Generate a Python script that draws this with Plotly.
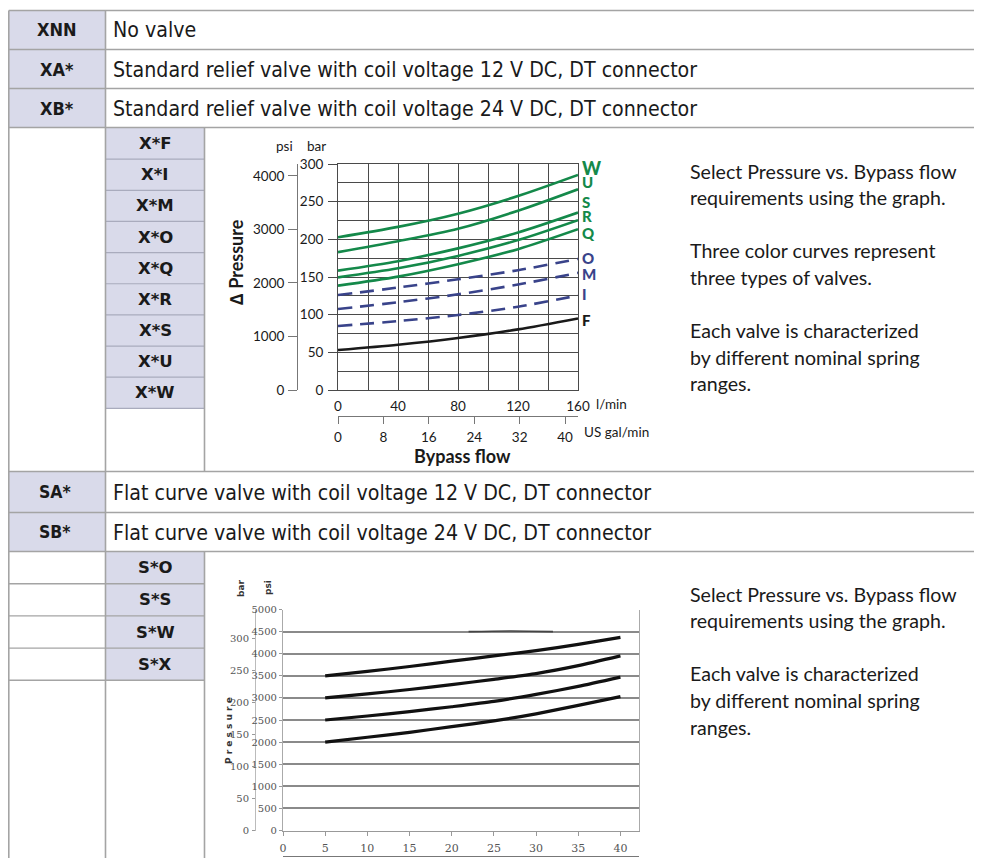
import plotly.graph_objects as go

# the page body adds an 8 px margin, so the figure is drawn 8 px in from the corner
OFF = 8
W, H = 982 - OFF, 858 - OFF


def px(x):
    return (x - OFF) / W


def py(y):
    return 1 - (y - OFF) / H


# ── data ──────────────────────────────────────────────────────────────────────
TOP_CODES = ["XNN", "XA*", "XB*"]
TOP_DESCR = [
    "No valve",
    "Standard relief valve with coil voltage 12 V DC, DT connector",
    "Standard relief valve with coil voltage 24 V DC, DT connector",
]
X_SUBCODES = ["X*F", "X*I", "X*M", "X*O", "X*Q", "X*R", "X*S", "X*U", "X*W"]
S_CODES = ["SA*", "SB*"]
S_DESCR = [
    "Flat curve valve with coil voltage 12 V DC, DT connector",
    "Flat curve valve with coil voltage 24 V DC, DT connector",
]
S_SUBCODES = ["S*O", "S*S", "S*W", "S*X"]

NOTE_X = [
    "Select Pressure vs. Bypass flow",
    "requirements using the graph.",
    "",
    "Three color curves represent",
    "three types of valves.",
    "",
    "Each valve is characterized",
    "by different nominal spring",
    "ranges.",
]
NOTE_S = [
    "Select Pressure vs. Bypass flow",
    "requirements using the graph.",
    "",
    "Each valve is characterized",
    "by different nominal spring",
    "ranges.",
]

# standard relief valve curves, pressure in bar vs flow in l/min
FLOW_LMIN = [0, 40, 80, 120, 160]
W_BAR = [202.7, 216.5, 234, 257.5, 285.5]
U_BAR = [183, 197.5, 214, 238, 266.5]
S_BAR = [158.5, 171, 188, 209, 235.5]
R_BAR = [149.5, 161.5, 178, 199, 225.5]
Q_BAR = [138.5, 150.5, 167, 187, 213.5]
O_BAR = [126, 136, 147, 159, 174]
M_BAR = [107.5, 116.5, 127, 140, 155.5]
I_BAR = [85, 91.5, 99.5, 110.5, 125.5]
F_BAR = [53, 60, 69, 80.5, 95]

# flat curve valves, pressure in psi vs flow in US gal/min
FLOW_GPM = [5, 10, 15, 20, 25, 30, 35, 40]
FLAT_1 = [3500, 3600, 3710, 3830, 3950, 4070, 4210, 4370]
FLAT_2 = [3000, 3090, 3190, 3300, 3420, 3550, 3730, 3950]
FLAT_3 = [2500, 2590, 2690, 2800, 2920, 3080, 3260, 3470]
FLAT_4 = [2000, 2110, 2220, 2350, 2480, 2640, 2830, 3030]
FAINT_X = [22, 27, 32]
FAINT_PSI = [4500, 4515, 4500]

PSI_PER_BAR = 14.5038
LMIN_PER_GPM = 3.78541

GREEN = "#14894a"
NAVY = "#39438a"
LINE = "#a4a4a4"
HEAD = "#d9daea"
SUBLINE = "#a9abbd"

NARROW = "DejaVu Sans Condensed, sans-serif"
BOLD = "DejaVu Sans, sans-serif"
BODY = "Lato, Open Sans, sans-serif"

fig = go.Figure()

# ── chart 1: standard relief valves ──────────────────────────────────────────
std_curves = [
    ("W", W_BAR, GREEN, "solid"), ("U", U_BAR, GREEN, "solid"),
    ("S", S_BAR, GREEN, "solid"), ("R", R_BAR, GREEN, "solid"),
    ("Q", Q_BAR, GREEN, "solid"), ("O", O_BAR, NAVY, "14px,8px"),
    ("M", M_BAR, NAVY, "14px,8px"), ("I", I_BAR, NAVY, "14px,8px"),
    ("F", F_BAR, "#1a1a1a", "solid"),
]
for name, vals, col, dash in std_curves:
    fig.add_trace(go.Scatter(
        x=FLOW_LMIN, y=vals, mode="lines", name=name,
        line=dict(color=col, width=2.6, dash=dash, shape="spline", smoothing=0.8),
        xaxis="x", yaxis="y", showlegend=False, hoverinfo="skip",
    ))
# empty traces so the secondary scales get drawn
fig.add_trace(go.Scatter(x=[], y=[], xaxis="x2", yaxis="y", showlegend=False))
fig.add_trace(go.Scatter(x=[], y=[], xaxis="x", yaxis="y2", showlegend=False))

# ── chart 2: flat curve valves ───────────────────────────────────────────────
for vals in [FLAT_1, FLAT_2, FLAT_3, FLAT_4]:
    fig.add_trace(go.Scatter(
        x=FLOW_GPM, y=vals, mode="lines",
        line=dict(color="#111111", width=3.2, shape="spline", smoothing=0.6),
        xaxis="x3", yaxis="y3", showlegend=False, hoverinfo="skip",
    ))
fig.add_trace(go.Scatter(
    x=FAINT_X, y=FAINT_PSI, mode="lines",
    line=dict(color="#444444", width=1.6, shape="spline"),
    xaxis="x3", yaxis="y3", showlegend=False, hoverinfo="skip",
))
fig.add_trace(go.Scatter(x=[], y=[], xaxis="x4", yaxis="y3", showlegend=False))
fig.add_trace(go.Scatter(x=[], y=[], xaxis="x3", yaxis="y4", showlegend=False))

# ── table frame ───────────────────────────────────────────────────────────────
shapes = []


def rect(x0, y0, x1, y1, fill):
    shapes.append(dict(type="rect", xref="paper", yref="paper", layer="below",
                       x0=px(x0), x1=px(x1), y0=py(y1), y1=py(y0),
                       fillcolor=fill, line=dict(width=0)))


def hline(y, x0, x1, color=LINE, width=1.6):
    shapes.append(dict(type="line", xref="paper", yref="paper", layer="below",
                       x0=px(x0), x1=px(x1), y0=py(y), y1=py(y),
                       line=dict(color=color, width=width)))


def vline(x, y0, y1, color=LINE, width=1.6):
    shapes.append(dict(type="line", xref="paper", yref="paper", layer="below",
                       x0=px(x), x1=px(x), y0=py(y0), y1=py(y1),
                       line=dict(color=color, width=width)))


L, C1, C2 = 8.8, 105.5, 204.5
top_rows = [10.5, 49.5, 88.5, 127.5]
s_rows = [471.5, 512.5, 551.5]
x_sub = [128 + 31.15 * i for i in range(len(X_SUBCODES) + 1)]
s_sub = [551.5 + 32.2 * i for i in range(len(S_SUBCODES) + 1)]

for rows in (top_rows, s_rows):
    for y0, y1 in zip(rows[:-1], rows[1:]):
        rect(L, y0, C1, y1, HEAD)
rect(C1, x_sub[0], C2, x_sub[-1], HEAD)
rect(C1, s_sub[0], C2, s_sub[-1], HEAD)
for y in x_sub[1:-1]:
    hline(y, C1, C2, SUBLINE, 1.2)
hline(x_sub[-1], C1, C2, SUBLINE, 1.2)
for y in s_sub[1:]:
    hline(y, L, C2, LINE, 1.4)
for y in top_rows + s_rows:
    hline(y, L, 982)
vline(L, 10.5, 858)
vline(C1, 10.5, 858)
vline(C2, 127.5, 471.5)
vline(C2, 551.5, 858)

# ── annotations ──────────────────────────────────────────────────────────────
ann = []


def text(x, y, s, size, family, color="#1a1a1a", xanchor="center", angle=0, bold=False):
    ann.append(dict(x=px(x), y=py(y), xref="paper", yref="paper", text=s,
                    showarrow=False, xanchor=xanchor, yanchor="middle", textangle=angle,
                    font=dict(size=size, family=family, color=color,
                              weight=700 if bold else 400)))


for i, (code, descr) in enumerate(zip(TOP_CODES, TOP_DESCR)):
    yc = (top_rows[i] + top_rows[i + 1]) / 2
    text(57, yc, code, 18, NARROW, bold=True)
    text(111, yc, descr, 21.2, NARROW, xanchor="left")
for i, (code, descr) in enumerate(zip(S_CODES, S_DESCR)):
    yc = (s_rows[i] + s_rows[i + 1]) / 2
    text(55, yc, code, 17.5, NARROW, bold=True)
    text(111, yc, descr, 21.2, NARROW, xanchor="left")
for i, code in enumerate(X_SUBCODES):
    text(155, (x_sub[i] + x_sub[i + 1]) / 2, code, 16.5, BOLD, bold=True)
for i, code in enumerate(S_SUBCODES):
    text(155, (s_sub[i] + s_sub[i + 1]) / 2, code, 16.5, BOLD, bold=True)

for i, line in enumerate(NOTE_X):
    if line:
        text(688, 171 + 26.6 * i, line, 19.6, BODY, xanchor="left")
for i, line in enumerate(NOTE_S):
    if line:
        text(688, 594 + 26.6 * i, line, 19.6, BODY, xanchor="left")

# chart 1 labels
text(284, 146, "psi", 13.5, BODY)
text(316, 146, "bar", 13.5, BODY)
text(236, 262, "\u2206 Pressure", 18, BODY, angle=-90, bold=True)
text(594, 404, "l/min", 13.5, BODY, xanchor="left")
text(582, 432, "US gal/min", 13.5, BODY, xanchor="left")
text(462, 456, "Bypass flow", 18, BODY, bold=True)
label_y = {"W": 295, "U": 275.5, "S": 249, "R": 231.5, "Q": 209,
           "O": 175, "M": 154, "I": 127.5, "F": 93}
for name, vals, col, dash in std_curves:
    ann.append(dict(x=160, y=label_y[name], xref="x", yref="y", text=name,
                    showarrow=False, xanchor="left", yanchor="middle", xshift=2,
                    font=dict(size=18 if name == "W" else 15, family=BODY,
                              color=col, weight=900)))

# chart 2 labels
text(241, 588, "bar", 9, BOLD, color="#333", angle=-90, bold=True)
text(268, 588, "psi", 9, BOLD, color="#333", angle=-90, bold=True)
text(229, 731, "P r e s s u r e", 9, BOLD, color="#333", angle=-90, bold=True)

# ── axes ──────────────────────────────────────────────────────────────────────
tick_font = dict(size=13.5, family=BODY, color="#1a1a1a")
grid = "#4a4a4a"
small_font = dict(size=11, family="DejaVu Serif, serif", color="#555")
flat_grid = "#8a8a8a"

fig.update_layout(
    width=W, height=H, autosize=False,
    margin=dict(l=0, r=0, t=0, b=0, pad=0, autoexpand=False),
    paper_bgcolor="white", plot_bgcolor="rgba(0,0,0,0)",
    shapes=shapes, annotations=ann, showlegend=False,
    xaxis=dict(
        domain=[px(338), px(578)], range=[0, 160], anchor="y",
        tickmode="linear", tick0=0, dtick=40, showgrid=True, gridcolor=grid, gridwidth=1,
        minor=dict(dtick=20, showgrid=True, gridcolor=grid, gridwidth=1),
        showline=True, linecolor=grid, linewidth=1, mirror=True, zeroline=False,
        ticks="", tickfont=tick_font, ticklabelstandoff=4,
    ),
    yaxis=dict(
        domain=[py(390), py(164)], range=[0, 300], anchor="x",
        tickmode="linear", tick0=0, dtick=50, showgrid=True, gridcolor=grid, gridwidth=1,
        minor=dict(dtick=25, showgrid=True, gridcolor=grid, gridwidth=1),
        showline=True, linecolor=grid, linewidth=1, mirror=True, zeroline=False,
        ticks="outside", ticklen=9, tickcolor=grid, tickfont=tick_font,
        ticklabelstandoff=2,
    ),
    xaxis2=dict(
        overlaying="x", anchor="free", position=py(416), side="bottom",
        range=[0, 160 / LMIN_PER_GPM], tickmode="linear", tick0=0, dtick=8,
        showgrid=False, zeroline=False, showline=True, linecolor="#777", linewidth=1,
        ticks="outside", ticklen=7, tickcolor="#777", tickfont=tick_font,
        ticklabelstandoff=2,
    ),
    yaxis2=dict(
        overlaying="y", anchor="free", position=px(297), side="left",
        range=[0, 4220], tickmode="linear", tick0=0, dtick=1000,
        showgrid=False, zeroline=False, showline=True, linecolor="#777", linewidth=1,
        ticks="outside", ticklen=9, tickcolor="#777", tickfont=tick_font,
        ticklabelstandoff=1,
    ),
    xaxis3=dict(
        domain=[px(283), px(639)], range=[0, 42.2], anchor="y3",
        tickmode="linear", tick0=0, dtick=5, showgrid=False, zeroline=False,
        showline=True, linecolor="#999", linewidth=1.2,
        ticks="outside", ticklen=4, tickcolor="#999", tickfont=small_font,
        ticklabelstandoff=3,
    ),
    yaxis3=dict(
        domain=[py(830.5), py(609.5)], range=[0, 5000], anchor="x3",
        tickmode="linear", tick0=0, dtick=500, showgrid=True,
        gridcolor=flat_grid, gridwidth=1.6, zeroline=False,
        showline=True, linecolor="#aaa", linewidth=1.2, mirror=True,
        ticks="outside", ticklen=3, tickcolor="#999",
        tickfont=dict(size=10, family="DejaVu Serif, serif", color="#555"),
        ticklabelstandoff=0,
    ),
    xaxis4=dict(
        overlaying="x3", anchor="free", position=py(855.5), range=[0, 42.2],
        tickmode="linear", tick0=0, dtick=2.5, showgrid=False, zeroline=False,
        showline=True, linecolor="#777", linewidth=1.4, ticks="", ticklen=3,
        tickcolor="#777", showticklabels=False,
    ),
    yaxis4=dict(
        overlaying="y3", anchor="free", position=px(255), side="left",
        range=[0, 5000 / PSI_PER_BAR], tickmode="linear", tick0=0, dtick=50,
        showgrid=False, zeroline=False, showline=True, linecolor="#bbb", linewidth=1,
        ticks="outside", ticklen=3, tickcolor="#999",
        tickfont=dict(size=10, family="DejaVu Serif, serif", color="#555"),
        ticklabelstandoff=1,
    ),
)

fig.write_html("out.html")
